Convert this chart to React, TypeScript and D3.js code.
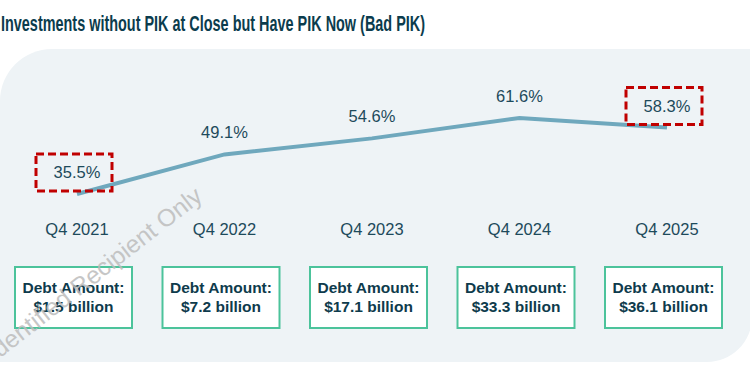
import React from "react";
import * as d3 from "d3";

const categories = ["Q4 2021", "Q4 2022", "Q4 2023", "Q4 2024", "Q4 2025"];
const badPikPct = [35.5, 49.1, 54.6, 61.6, 58.3];
const debtAmounts = ["$1.5 billion", "$7.2 billion", "$17.1 billion", "$33.3 billion", "$36.1 billion"];
const highlighted = ["Q4 2021", "Q4 2025"];
const title = "Investments without PIK at Close but Have PIK Now (Bad PIK)";
const watermark = "Identified Recipient Only";

const W = 750;
const H = 375;
const FONT = "'Liberation Sans', Arial, Helvetica, sans-serif";

export default function App() {
  const x = d3.scalePoint<string>().domain(categories).range([77, 667]);
  const y = d3.scaleLinear().domain([30, 65]).range([210, 108.1]);
  const data = categories.map((c, i) => ({ c, v: badPikPct[i], d: debtAmounts[i] }));
  const line = d3
    .line<{ c: string; v: number }>()
    .x((d) => x(d.c) as number)
    .y((d) => y(d.v));

  const pTop = 49, pBottom = 362, pLeft = 0, pRight = 752, rTL = 52, rBR = 45;
  const panel = `M${pLeft},${pTop + rTL} A${rTL},${rTL} 0 0 1 ${pLeft + rTL},${pTop} L${pRight},${pTop} L${pRight},${pBottom - rBR} A${rBR},${rBR} 0 0 1 ${pRight - rBR},${pBottom} L${pLeft},${pBottom} Z`;

  return (
    <svg
      width={W}
      height={H}
      viewBox={`0 0 ${W} ${H}`}
      style={{ position: "absolute", left: 0, top: 0, background: "#ffffff" }}
      fontFamily={FONT}
    >
      <rect x={0} y={0} width={W} height={H} fill="#ffffff" />
      <text
        x={1}
        y={31}
        fontSize={22}
        fontWeight="bold"
        fill="#0b3c4d"
        textLength={424}
        lengthAdjust="spacingAndGlyphs"
      >
        {title}
      </text>
      <path d={panel} fill="#eef3f6" />

      <path d={line(data) || ""} fill="none" stroke="#6fa8bd" strokeWidth={4} />

      {data.map((d) => {
        const cx = x(d.c) as number;
        const ly = y(d.v) - 16;
        const hl = highlighted.includes(d.c);
        return (
          <g key={d.c}>
            {hl && (
              <rect
                x={cx - 41}
                y={ly - 24}
                width={76}
                height={37}
                fill="none"
                stroke="#c00000"
                strokeWidth={3}
                strokeDasharray="8 4"
              />
            )}
            <text x={cx} y={ly} textAnchor="middle" fontSize={16.5} fill="#1d4a5b">
              {d.v.toFixed(1)}%
            </text>
            <text x={cx} y={235} textAnchor="middle" fontSize={16.5} fill="#1d4a5b">
              {d.c}
            </text>
            <rect
              x={cx - 62}
              y={267}
              width={117}
              height={61}
              fill="#ffffff"
              stroke="#4cc39b"
              strokeWidth={2}
            />
            <text x={cx - 3.5} y={293} textAnchor="middle" fontSize={15.5} fontWeight="bold" fill="#0e3b4c">
              Debt Amount:
            </text>
            <text x={cx - 3.5} y={312} textAnchor="middle" fontSize={15.5} fontWeight="bold" fill="#0e3b4c">
              {d.d}
            </text>
          </g>
        );
      })}

      <text
        x={204}
        y={199}
        textAnchor="end"
        fontSize={24.5}
        fill="#bdbdbd"
        opacity={0.85}
        transform="rotate(-38 204 199)"
      >
        {watermark}
      </text>
    </svg>
  );
}
